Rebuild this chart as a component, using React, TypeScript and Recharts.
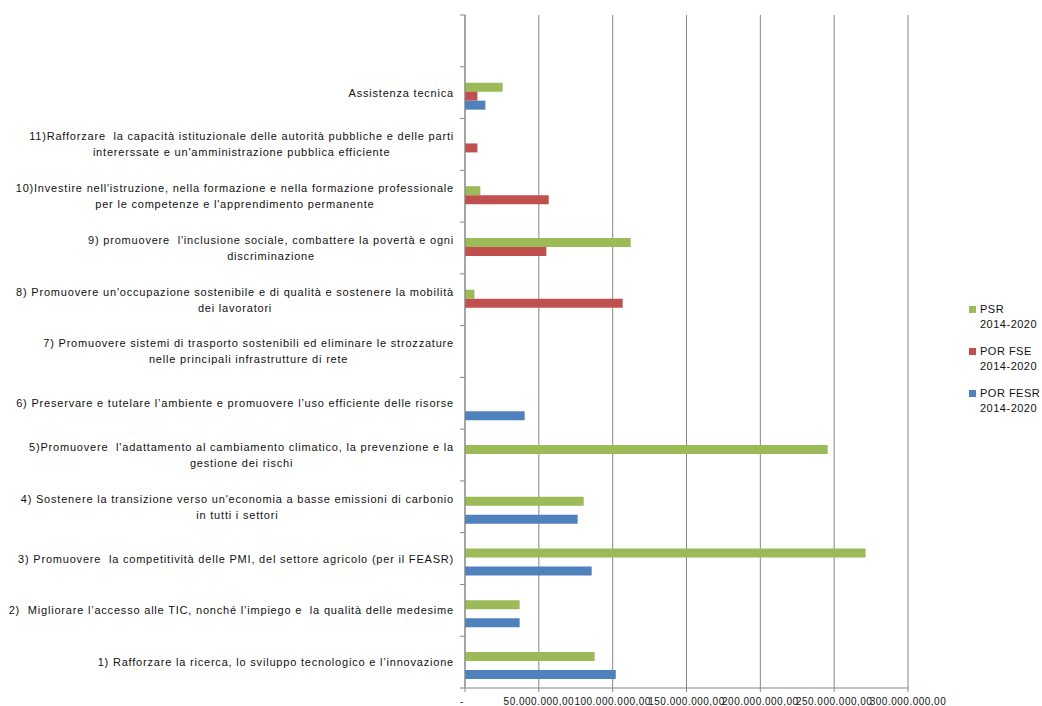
import React from 'react';
import { BarChart, Bar, XAxis, YAxis, CartesianGrid } from 'recharts';

// categories top to bottom (the first band of the original chart is empty)
const categories = [
  '',
  'Assistenza tecnica',
  "11)Rafforzare  la capacità istituzionale delle autorità pubbliche e delle parti\nintererssate e un'amministrazione pubblica efficiente",
  "10)Investire nell'istruzione, nella formazione e nella formazione professionale\nper le competenze e l'apprendimento permanente",
  "9) promuovere  l'inclusione sociale, combattere la povertà e ogni\ndiscriminazione",
  "8) Promuovere un'occupazione sostenibile e di qualità e sostenere la mobilità\ndei lavoratori",
  '7) Promuovere sistemi di trasporto sostenibili ed eliminare le strozzature\nnelle principali infrastrutture di rete',
  '6) Preservare e tutelare l’ambiente e promuovere l’uso efficiente delle risorse',
  "5)Promuovere  l'adattamento al cambiamento climatico, la prevenzione e la\ngestione dei rischi",
  "4) Sostenere la transizione verso un'economia a basse emissioni di carbonio\nin tutti i settori",
  '3) Promuovere  la competitività delle PMI, del settore agricolo (per il FEASR)',
  '2)  Migliorare l’accesso alle TIC, nonché l’impiego e  la qualità delle medesime',
  '1) Rafforzare la ricerca, lo sviluppo tecnologico e l’innovazione',
];

const psr = [null, 25500000, null, 10400000, 112200000, 6400000, null, null, 245600000, 80400000, 271300000, 37000000, 87800000];
const porFse = [null, 8400000, 8400000, 56700000, 55100000, 106800000, null, null, null, null, null, null, null];
const porFesr = [null, 13800000, null, null, null, null, null, 40400000, null, 76300000, 85800000, 37000000, 102100000];
// empty fourth series of the source sheet (keeps an empty slot in each group)
const emptySeries = categories.map(() => null);

const xTicks = [0, 50000000, 100000000, 150000000, 200000000, 250000000, 300000000];

const series = [
  { key: 'psr', name: 'PSR\n2014-2020', color: '#9BBB59' },
  { key: 'fse', name: 'POR FSE\n2014-2020', color: '#C0504D' },
  { key: 'fesr', name: 'POR FESR\n2014-2020', color: '#4F81BD' },
];

const data = categories.map((name, i) => ({
  name,
  empty: emptySeries[i],
  psr: psr[i],
  fse: porFse[i],
  fesr: porFesr[i],
}));

const W = 1042;
const H = 706;
const TOP = 15;
const Y_AXIS_W = 465;
const X_AXIS_H = 18;
const BAND = (H - TOP - X_AXIS_H) / categories.length;
const AXIS_COLOR = '#868686';
const FONT = '"Liberation Sans", Arial, sans-serif';

function fmtIt(v: number) {
  if (v === 0) return '-';
  const s = String(Math.round(v)).replace(/\B(?=(\d{3})+(?!\d))/g, '.');
  return s + ',00';
}

function CategoryTick(props: any) {
  const { y, payload, index } = props;
  const top = y - BAND / 2;
  const last = index === categories.length - 1;
  return (
    <g>
      <line x1={Y_AXIS_W - 5} x2={Y_AXIS_W} y1={top} y2={top} stroke={AXIS_COLOR} />
      {last && (
        <line x1={Y_AXIS_W - 5} x2={Y_AXIS_W} y1={top + BAND} y2={top + BAND} stroke={AXIS_COLOR} />
      )}
      <foreignObject x={0} y={top} width={Y_AXIS_W - 11} height={BAND}>
        <div
          style={{
            display: 'flex',
            justifyContent: 'flex-end',
            alignItems: 'center',
            height: '100%',
          }}
        >
          <div
            style={{
              textAlign: 'center',
              whiteSpace: 'pre',
              fontFamily: FONT,
              fontSize: 11,
              lineHeight: '16px',
              letterSpacing: '0.8px',
              color: '#111',
            }}
          >
            {payload.value}
          </div>
        </div>
      </foreignObject>
    </g>
  );
}

function ValueTick(props: any) {
  const { x, payload, index } = props;
  return (
    <text
      x={x}
      y={705}
      dx={index === 0 ? -3 : 0}
      textAnchor="middle"
      fontFamily={FONT}
      fontSize={10}
      letterSpacing={0.5}
      fill="#111"
    >
      {fmtIt(payload.value)}
    </text>
  );
}

export default function App() {
  return (
    <div style={{ position: 'absolute', left: 0, top: 0, width: W, height: H, background: '#fff' }}>
      <BarChart
        width={W}
        height={H}
        data={data}
        layout="vertical"
        margin={{ top: TOP, right: 134, bottom: 0, left: 0 }}
        barCategoryGap="13.3%"
        barGap={0}
      >
        <CartesianGrid horizontal={false} stroke={AXIS_COLOR} />
        <XAxis
          type="number"
          domain={[0, 300000000]}
          ticks={xTicks}
          height={X_AXIS_H}
          stroke={AXIS_COLOR}
          tickSize={4}
          tick={<ValueTick />}
          interval={0}
        />
        <YAxis
          type="category"
          dataKey="name"
          width={Y_AXIS_W}
          stroke={AXIS_COLOR}
          tickLine={false}
          tick={<CategoryTick />}
          interval={0}
        />
        <Bar dataKey="empty" fill="none" isAnimationActive={false} />
        {series.map(s => (
          <Bar key={s.key} dataKey={s.key} name={s.name} fill={s.color} isAnimationActive={false} />
        ))}
      </BarChart>
      {series.map((s, i) => (
        <div
          key={s.key}
          style={{
            position: 'absolute',
            left: 969,
            top: 302 + i * 42,
            fontFamily: FONT,
            fontSize: 11,
            lineHeight: '15px',
            letterSpacing: '0.5px',
            color: '#111',
          }}
        >
          <span
            style={{
              position: 'absolute',
              left: 0,
              top: 4,
              width: 7,
              height: 7,
              background: s.color,
            }}
          />
          <div style={{ marginLeft: 11, whiteSpace: 'pre' }}>{s.name}</div>
        </div>
      ))}
    </div>
  );
}
